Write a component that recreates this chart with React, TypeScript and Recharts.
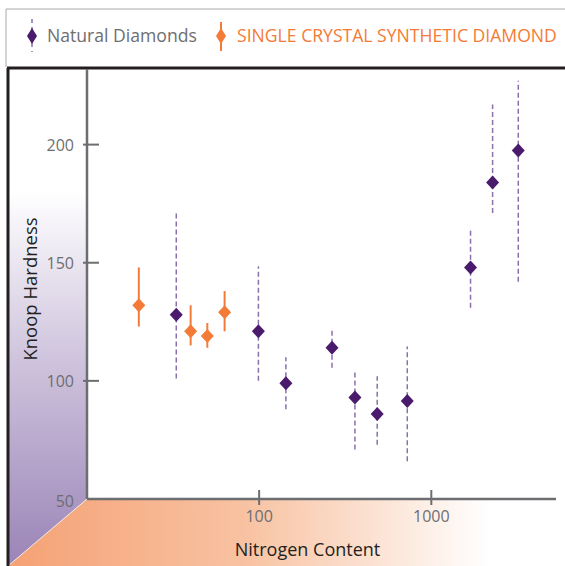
import { ErrorBar, Scatter, ScatterChart, XAxis, YAxis } from 'recharts'

// nitrogen content (ppm) and Knoop hardness
const naturalNitrogen = [33, 99, 143, 265, 360, 485, 725, 1690, 2270, 3200]
const naturalHardness = [128, 121, 99, 114, 93, 86, 91.5, 148, 184, 197.5]
const naturalLow = [101, 100, 88, 105.5, 71, 73, 66, 131, 171, 142]
const naturalHigh = [171.5, 148.5, 110, 122, 104.5, 102, 114.5, 164, 217, 227]

const synthNitrogen = [20, 40, 50, 63]
const synthHardness = [132, 121, 119, 129]
const synthLow = [123, 115, 114, 121]
const synthHigh = [148, 132, 124.5, 138]

const xTicks = [100, 1000]
const yTicks = [50, 100, 150, 200]

const PURPLE = '#4a1a6c'
const PURPLE_DASH = '#8a70ad'
const ORANGE = '#f47b37'
const GREY = '#6d6e71'
const FONT = '"Open Sans", sans-serif'

const toRows = (n: number[], h: number[], lo: number[], hi: number[]) =>
  n.map((v, i) => ({ n: v, h: h[i], err: [h[i] - lo[i], hi[i] - h[i]] }))

const naturalData = toRows(naturalNitrogen, naturalHardness, naturalLow, naturalHigh)
const synthData = toRows(synthNitrogen, synthHardness, synthLow, synthHigh)

const diamond = (color: string) => (props: any) => {
  const { cx, cy } = props
  return (
    <polygon
      points={`${cx},${cy - 7} ${cx + 6.5},${cy} ${cx},${cy + 7} ${cx - 6.5},${cy}`}
      fill={color}
    />
  )
}

const XTick = ({ x, y, payload }: any) => (
  <g>
    <line x1={x} x2={x} y1={y - 9} y2={y + 6} stroke={GREY} strokeWidth={2} />
    <text x={x} y={y + 23} textAnchor="middle" fill={GREY} fontSize={16} fontFamily={FONT}>
      {payload.value}
    </text>
  </g>
)

const YTick = ({ x, y, payload }: any) => (
  <g>
    {payload.value !== 50 && (
      <line x1={x - 4} x2={x + 12} y1={y} y2={y} stroke={GREY} strokeWidth={2} />
    )}
    <text
      x={x - 13}
      y={y + (payload.value === 50 ? 8 : 6)}
      textAnchor="end"
      fill={GREY}
      fontSize={16}
      fontFamily={FONT}
    >
      {payload.value}
    </text>
  </g>
)

function Backdrop() {
  return (
    <svg width={565} height={566} style={{ position: 'absolute', left: 0, top: 0 }}>
      <defs>
        <linearGradient id="purpleFade" x1="0" y1="1" x2="0" y2="0">
          <stop offset="0" stopColor="#9a84b7" />
          <stop offset="0.55" stopColor="#cfc4dd" />
          <stop offset="1" stopColor="#ffffff" />
        </linearGradient>
        <linearGradient id="orangeFade" x1="0" y1="0" x2="1" y2="0">
          <stop offset="0" stopColor="#f5a174" />
          <stop offset="0.5" stopColor="#f8c3a3" />
          <stop offset="1" stopColor="#ffffff" />
        </linearGradient>
      </defs>
      <rect x={8} y={499} width={482} height={67} fill="url(#orangeFade)" />
      <polygon points="8,190 87,190 87,499 8,566" fill="url(#purpleFade)" />
      <line x1={87} y1={499} x2={8} y2={566} stroke="#f4ece8" strokeWidth={1} />

      <line x1={6} y1={9} x2={565} y2={9} stroke="#a7a9ac" strokeWidth={1} />
      <line x1={6} y1={9} x2={6} y2={67} stroke="#a7a9ac" strokeWidth={1} />
      <line x1={7} y1={68} x2={565} y2={68} stroke="#231f20" strokeWidth={3} />
      <line x1={8} y1={68} x2={8} y2={566} stroke="#231f20" strokeWidth={3} />

      <line x1={32} y1={19} x2={32} y2={52} stroke={PURPLE_DASH} strokeWidth={1.5} strokeDasharray="4 4" />
      <polygon points="32,28 37,36 32,44 27,36" fill={PURPLE} />
      <text x={47} y={42} fill={GREY} fontSize={17.6} fontFamily={FONT}>
        Natural Diamonds
      </text>

      <line x1={221} y1={22} x2={221} y2={51} stroke={ORANGE} strokeWidth={2} />
      <polygon points="221,28 226,36 221,44 216,36" fill={ORANGE} />
      <text x={237} y={42} fill={ORANGE} fontSize={17.6} fontFamily={FONT}>
        SINGLE CRYSTAL SYNTHETIC DIAMOND
      </text>
    </svg>
  )
}

export default function App() {
  return (
    <div
      style={{
        position: 'absolute',
        left: 0,
        top: 0,
        width: 565,
        height: 566,
        background: '#fff',
        fontFamily: FONT,
      }}
    >
      <Backdrop />
      <div style={{ position: 'absolute', left: 0, top: 0 }}>
        <ScatterChart width={565} height={566} margin={{ top: 69, right: 9, bottom: 0, left: 0 }}>
          <XAxis
            dataKey="n"
            type="number"
            scale="log"
            domain={[10, 5300]}
            ticks={xTicks}
            allowDataOverflow
            height={67}
            tickSize={0}
            tickMargin={0}
            tickLine={false}
            tick={<XTick />}
            axisLine={{ stroke: GREY, strokeWidth: 2.5 }}
            label={{
              value: 'Nitrogen Content',
              position: 'center',
              dx: -14,
              dy: 17,
              fill: '#231f20',
              fontSize: 18,
            }}
          />
          <YAxis
            dataKey="h"
            type="number"
            domain={[50, 232]}
            ticks={yTicks}
            allowDataOverflow
            width={87}
            tickSize={0}
            tickMargin={0}
            tickLine={false}
            tick={<YTick />}
            axisLine={{ stroke: GREY, strokeWidth: 2.5 }}
            label={{
              value: 'Knoop Hardness',
              angle: -90,
              position: 'center',
              dx: -13,
              dy: 5,
              fill: '#231f20',
              fontSize: 18.5,
            }}
          />
          <Scatter
            name="Natural Diamonds"
            data={naturalData}
            shape={diamond(PURPLE)}
            isAnimationActive={false}
          >
            <ErrorBar
              dataKey="err"
              direction="y"
              width={0}
              stroke={PURPLE_DASH}
              strokeWidth={1.5}
              strokeDasharray="5 3"
            />
          </Scatter>
          <Scatter
            name="SINGLE CRYSTAL SYNTHETIC DIAMOND"
            data={synthData}
            shape={diamond(ORANGE)}
            isAnimationActive={false}
          >
            <ErrorBar dataKey="err" direction="y" width={0} stroke={ORANGE} strokeWidth={2} />
          </Scatter>
        </ScatterChart>
      </div>
    </div>
  )
}
